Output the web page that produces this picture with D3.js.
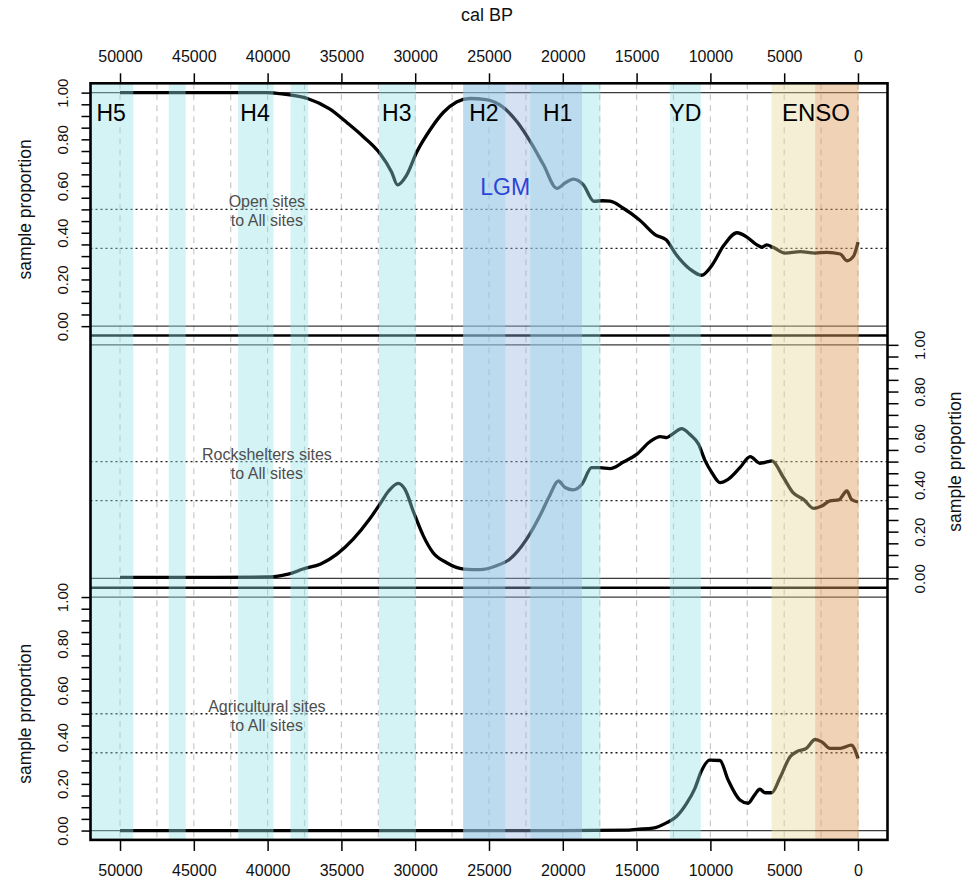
<!DOCTYPE html>
<html>
<head>
<meta charset="utf-8">
<script src="https://cdn.jsdelivr.net/npm/d3@7"></script>
<style>
  body { margin: 0; background: #fff; }
  text { font-family: "Liberation Sans", Arial, sans-serif; }
</style>
</head>
<body>
<div id="chart"></div>
<script>
// proportion curves, [cal BP, proportion]
var openSites = [
  [50000, 1.0], [45000, 1.0], [40000, 1.0], [39500, 0.998], [38500, 0.99], [37300, 0.975],
  [35800, 0.93], [34600, 0.87], [33500, 0.81], [32400, 0.74], [31600, 0.66], [31200, 0.605],
  [30600, 0.645], [29900, 0.745], [29000, 0.84], [28100, 0.915], [27200, 0.96], [26300, 0.975],
  [25200, 0.97], [24100, 0.94], [23100, 0.875], [22200, 0.79], [21300, 0.69], [20400, 0.59],
  [19800, 0.615], [19300, 0.63], [18600, 0.605], [17900, 0.535], [17300, 0.537], [16800, 0.535],
  [15900, 0.505], [14800, 0.455], [13700, 0.39], [13000, 0.37], [12300, 0.305], [11400, 0.245],
  [10600, 0.218], [9900, 0.26], [9100, 0.345], [8200, 0.40], [7500, 0.38], [6900, 0.35],
  [6500, 0.338], [6200, 0.348], [5750, 0.338], [4950, 0.313], [3900, 0.319], [2900, 0.313],
  [2100, 0.316], [1200, 0.309], [750, 0.28], [300, 0.30], [0, 0.36]
];
var rockshelterSites = [
  [50000, 0.004], [45000, 0.004], [40000, 0.006], [39000, 0.013], [38600, 0.018], [37600, 0.04],
  [36400, 0.062], [35300, 0.104], [34200, 0.168], [33100, 0.253], [32400, 0.317], [31800, 0.374],
  [31150, 0.407], [30700, 0.382], [30100, 0.282], [29450, 0.182], [28800, 0.111], [27900, 0.068],
  [26700, 0.04], [25600, 0.037], [24500, 0.054], [23600, 0.082], [22450, 0.168], [21550, 0.268],
  [20900, 0.353], [20300, 0.417], [19850, 0.389], [19300, 0.379], [18700, 0.403], [18050, 0.474],
  [17500, 0.474], [16800, 0.47], [15900, 0.498], [15000, 0.531], [14100, 0.585], [13400, 0.607],
  [12950, 0.603], [12500, 0.621], [11950, 0.641], [11400, 0.617], [10800, 0.574], [10350, 0.503],
  [9900, 0.453], [9350, 0.41], [8800, 0.424], [8000, 0.474], [7300, 0.521], [6650, 0.493],
  [6100, 0.50], [5850, 0.503], [5050, 0.432], [4400, 0.367], [3700, 0.339], [3000, 0.30],
  [2450, 0.31], [1900, 0.332], [1300, 0.336], [750, 0.374], [450, 0.339], [0, 0.327]
];
var agriculturalSites = [
  [50000, 0], [20000, 0], [15500, 0.002], [15000, 0.005], [13900, 0.01], [12950, 0.034],
  [12300, 0.06], [11600, 0.117], [11050, 0.181], [10600, 0.256], [10050, 0.302], [9350, 0.30],
  [8800, 0.217], [8000, 0.131], [7450, 0.117], [7000, 0.153], [6650, 0.177], [6300, 0.162],
  [5850, 0.162], [5300, 0.224], [4600, 0.316], [4150, 0.338], [3500, 0.352], [2900, 0.39],
  [2450, 0.38], [1900, 0.352], [1200, 0.352], [450, 0.366], [0, 0.309]
];

var panelSeries = [openSites, rockshelterSites, agriculturalSites];
var panelNames = ["Open sites", "Rockshelters sites", "Agricultural sites"];
var refLevels = [0.5, 0.333];

// climate events (cal BP start, end)
var eventNames = ["H5", "", "H4", "", "H3", "H2", "H1", "YD"];
var eventStarts = [53000, 46700, 42000, 38450, 32450, 26750, 22200, 12750];
var eventEnds = [49100, 45550, 39600, 37250, 29950, 23900, 17450, 10650];
var eventLabelAt = [50600, null, 40850, null, 31250, 25350, 20350, 11700];
var lgmSpan = [26750, 18700];
var ensoSpans = [[5850, 2900], [2900, -50]];

var xTicks = [50000, 45000, 40000, 35000, 30000, 25000, 20000, 15000, 10000, 5000, 0];

var width = 973, height = 879;
var plotLeft = 90.5, plotRight = 887.5, plotTop = 83.3, panelH = 252.2;
var plotBottom = plotTop + 3 * panelH;

var x = d3.scaleLinear().domain([52000, -2000]).range([plotLeft, plotRight]);

function panelY(i) {
  var top = plotTop + i * panelH;
  return d3.scaleLinear().domain([-0.04, 1.04]).range([top + panelH, top]);
}

var svg = d3.select("#chart").append("svg")
  .attr("width", width)
  .attr("height", height);
svg.append("rect").attr("width", width).attr("height", height).attr("fill", "#fff");

svg.append("defs").append("clipPath").attr("id", "plotclip")
  .append("rect")
  .attr("x", plotLeft).attr("y", plotTop)
  .attr("width", plotRight - plotLeft).attr("height", plotBottom - plotTop);

var plot = svg.append("g").attr("clip-path", "url(#plotclip)");

// dashed grid every 2500 yr
plot.selectAll(".grid").data(d3.range(0, 50001, 2500)).enter()
  .append("line")
  .attr("x1", function(d) { return x(d); })
  .attr("x2", function(d) { return x(d); })
  .attr("y1", plotTop).attr("y2", plotBottom)
  .style("stroke", "#c9c9c9")
  .style("stroke-width", 1.2)
  .style("stroke-dasharray", "6,5");

panelSeries.forEach(function(series, i) {
  var y = panelY(i);
  [0, 1].forEach(function(v) {
    plot.append("line")
      .attr("x1", plotLeft).attr("x2", plotRight)
      .attr("y1", y(v)).attr("y2", y(v))
      .style("stroke", "#3a3a3a")
      .style("stroke-width", 1.3);
  });
  refLevels.forEach(function(v) {
    plot.append("line")
      .attr("x1", plotLeft).attr("x2", plotRight)
      .attr("y1", y(v)).attr("y2", y(v))
      .style("stroke", "#1a1a1a")
      .style("stroke-width", 1.4)
      .style("stroke-dasharray", "2,3");
  });
  var line = d3.line()
    .x(function(d) { return x(d[0]); })
    .y(function(d) { return y(d[1]); })
    .curve(d3.curveMonotoneX);
  plot.append("path")
    .datum(series)
    .attr("d", line)
    .style("fill", "none")
    .style("stroke", "#000")
    .style("stroke-width", 3.3)
    .style("stroke-linejoin", "round");
});

// panel separators
[1, 2].forEach(function(i) {
  plot.append("line")
    .attr("x1", plotLeft).attr("x2", plotRight)
    .attr("y1", plotTop + i * panelH).attr("y2", plotTop + i * panelH)
    .style("stroke", "#000")
    .style("stroke-width", 2.6);
});

// translucent bands over the curves
function band(span, color, alpha) {
  plot.append("rect")
    .attr("x", x(span[0]))
    .attr("width", x(span[1]) - x(span[0]))
    .attr("y", plotTop)
    .attr("height", plotBottom - plotTop)
    .style("fill", color)
    .style("fill-opacity", alpha);
}
eventStarts.forEach(function(s, i) {
  band([s, eventEnds[i]], "rgb(147,225,230)", 0.4);
});
band(lgmSpan, "rgb(152,182,227)", 0.4);
band(ensoSpans[0], "rgb(230,215,150)", 0.4);
band(ensoSpans[1], "rgb(222,158,93)", 0.45);

svg.append("rect")
  .attr("x", plotLeft).attr("y", plotTop)
  .attr("width", plotRight - plotLeft).attr("height", plotBottom - plotTop)
  .style("fill", "none")
  .style("stroke", "#000")
  .style("stroke-width", 2.6);

// event labels
eventNames.forEach(function(name, i) {
  if (!name) return;
  svg.append("text")
    .attr("x", x(eventLabelAt[i]))
    .attr("y", 121)
    .attr("text-anchor", "middle")
    .style("font-size", "23px")
    .style("fill", "#000")
    .text(name);
});
svg.append("text")
  .attr("x", x(2850)).attr("y", 121)
  .attr("text-anchor", "middle")
  .style("font-size", "24px")
  .text("ENSO");
svg.append("text")
  .attr("x", x(23900)).attr("y", 195)
  .attr("text-anchor", "middle")
  .style("font-size", "23px")
  .style("fill", "#2b45d6")
  .text("LGM");

// panel notes
panelNames.forEach(function(name, i) {
  var y = panelY(i);
  var note = svg.append("text")
    .attr("x", x(40050))
    .attr("y", y(0.5) - 2)
    .attr("text-anchor", "middle")
    .style("font-size", "16px")
    .style("fill", "#4e4e4e");
  note.append("tspan").attr("x", x(40050)).text(name);
  note.append("tspan").attr("x", x(40050)).attr("dy", 19).text("to All sites");
});

function styleAxis(g) {
  g.select(".domain").remove();
  g.selectAll(".tick line").style("stroke", "#000").style("stroke-width", 1.5);
  g.selectAll(".tick text")
    .style("font-size", "16px")
    .style("font-family", "'Liberation Sans', Arial, sans-serif")
    .style("fill", "#111");
}

svg.append("g")
  .attr("transform", "translate(0," + plotTop + ")")
  .call(d3.axisTop(x).tickValues(xTicks).tickSize(10).tickPadding(11).tickFormat(d3.format("d")))
  .call(styleAxis);
svg.append("g")
  .attr("transform", "translate(0," + plotBottom + ")")
  .call(d3.axisBottom(x).tickValues(xTicks).tickSize(11).tickPadding(14).tickFormat(d3.format("d")))
  .call(styleAxis);

var yTicks = d3.range(0, 21).map(function(i) { return i * 0.05; });
function yLabel(d, i) { return i % 4 == 0 ? d.toFixed(2) : ""; }

function rotateLabels(g, offset) {
  g.selectAll(".tick text")
    .attr("x", 0)
    .attr("dy", 0)
    .attr("text-anchor", "middle")
    .attr("transform", "translate(" + offset + ",0) rotate(-90)")
    .style("font-size", "15px");
}

[0, 2].forEach(function(i) {
  var y = panelY(i);
  svg.append("g")
    .attr("transform", "translate(" + plotLeft + ",0)")
    .call(d3.axisLeft(y).tickValues(yTicks).tickSize(9).tickFormat(yLabel))
    .call(styleAxis)
    .call(rotateLabels, 68 - plotLeft);
  svg.append("text")
    .attr("transform", "translate(31," + (plotTop + i * panelH + panelH / 2) + ") rotate(-90)")
    .attr("text-anchor", "middle")
    .style("font-size", "17.5px")
    .style("fill", "#111")
    .text("sample proportion");
});

var yMid = panelY(1);
svg.append("g")
  .attr("transform", "translate(" + plotRight + ",0)")
  .call(d3.axisRight(yMid).tickValues(yTicks).tickSize(11).tickFormat(yLabel))
  .call(styleAxis)
  .call(rotateLabels, 925 - plotRight);
svg.append("text")
  .attr("transform", "translate(961," + (plotTop + panelH * 1.5) + ") rotate(-90)")
  .attr("text-anchor", "middle")
  .style("font-size", "17.5px")
  .style("fill", "#111")
  .text("sample proportion");

svg.append("text")
  .attr("x", (plotLeft + plotRight) / 2 - 2)
  .attr("y", 21)
  .attr("text-anchor", "middle")
  .style("font-size", "18px")
  .style("fill", "#111")
  .text("cal BP");
</script>
</body>
</html>
